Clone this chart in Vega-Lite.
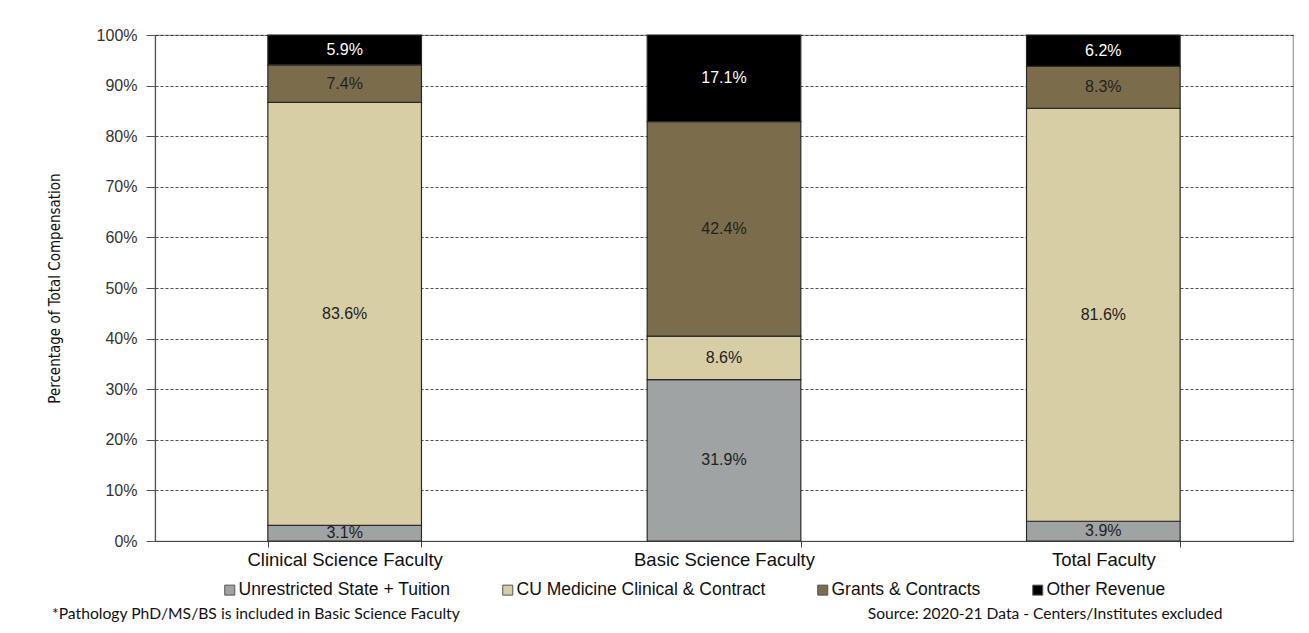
{
  "$schema": "https://vega.github.io/schema/vega-lite/v6.json",
  "width": 1138,
  "height": 506,
  "autosize": {"type": "none"},
  "padding": {"left": 155, "top": 35, "right": 16, "bottom": 92},
  "background": "white",
  "title": {
    "text": "*Pathology PhD/MS/BS  is included in Basic Science Faculty",
    "orient": "bottom",
    "anchor": "start",
    "frame": "group",
    "dx": -103,
    "dy": -12,
    "font": "Lato",
    "fontSize": 15.7,
    "fontWeight": "normal",
    "color": "#111",
    "baseline": "middle"
  },
  "data": {
    "values": [
      {"faculty": "Clinical Science Faculty", "source": "Unrestricted State + Tuition", "ord": 1, "share": 0.031},
      {"faculty": "Clinical Science Faculty", "source": "CU Medicine Clinical & Contract", "ord": 2, "share": 0.836},
      {"faculty": "Clinical Science Faculty", "source": "Grants & Contracts", "ord": 3, "share": 0.074},
      {"faculty": "Clinical Science Faculty", "source": "Other Revenue", "ord": 4, "share": 0.059},
      {"faculty": "Basic Science Faculty", "source": "Unrestricted State + Tuition", "ord": 1, "share": 0.319},
      {"faculty": "Basic Science Faculty", "source": "CU Medicine Clinical & Contract", "ord": 2, "share": 0.086},
      {"faculty": "Basic Science Faculty", "source": "Grants & Contracts", "ord": 3, "share": 0.424},
      {"faculty": "Basic Science Faculty", "source": "Other Revenue", "ord": 4, "share": 0.171},
      {"faculty": "Total Faculty", "source": "Unrestricted State + Tuition", "ord": 1, "share": 0.039},
      {"faculty": "Total Faculty", "source": "CU Medicine Clinical & Contract", "ord": 2, "share": 0.816},
      {"faculty": "Total Faculty", "source": "Grants & Contracts", "ord": 3, "share": 0.083},
      {"faculty": "Total Faculty", "source": "Other Revenue", "ord": 4, "share": 0.062}
    ]
  },
  "encoding": {
    "x": {
      "field": "faculty",
      "type": "nominal",
      "sort": ["Clinical Science Faculty", "Basic Science Faculty", "Total Faculty"],
      "scale": {"paddingInner": 0.595, "paddingOuter": 0.2975},
      "axis": {
        "title": "Source: 2020-21 Data - Centers/Institutes excluded",
        "titleX": 1067,
        "titleY": 72,
        "titleAlign": "right",
        "titleAnchor": null,
        "titleBaseline": "middle",
        "titleFont": "Lato",
        "titleFontSize": 15.6,
        "titleFontWeight": "normal",
        "titleColor": "#111",
        "labelAngle": 0,
        "labelFont": "Liberation Sans",
        "labelFontSize": 18.5,
        "labelColor": "#111",
        "labelPadding": 3,
        "labelLimit": 400,
        "tickBand": "extent",
        "tickSize": 6,
        "tickColor": "#444",
        "domainColor": "#444",
        "domainWidth": 1.2,
        "grid": false
      }
    },
    "y": {
      "field": "share",
      "type": "quantitative",
      "stack": "zero",
      "scale": {"domain": [0, 1]},
      "axis": {
        "title": "Percentage of Total Compensation",
        "titleFont": "Liberation Sans Narrow, DejaVu Sans Condensed, sans-serif",
        "titleFontSize": 15,
        "titleFontWeight": "normal",
        "titleColor": "#111",
        "titlePadding": 34,
        "values": [0, 0.1, 0.2, 0.3, 0.4, 0.5, 0.6, 0.7, 0.8, 0.9, 1],
        "format": ".0%",
        "labelFont": "Liberation Sans",
        "labelFontSize": 16,
        "labelColor": "#333",
        "labelPadding": 9,
        "tickSize": 9,
        "tickColor": "#555",
        "domainColor": "#555",
        "domainWidth": 1.2,
        "grid": true,
        "gridColor": "#222",
        "gridDash": [3, 2],
        "gridWidth": 0.8
      }
    }
  },
  "layer": [
    {
      "mark": {"type": "bar", "stroke": "#2a2a2a", "strokeWidth": 1.2},
      "encoding": {
        "color": {
          "field": "source",
          "type": "nominal",
          "scale": {
            "domain": ["Unrestricted State + Tuition", "CU Medicine Clinical & Contract", "Grants & Contracts", "Other Revenue"],
            "range": ["#A0A3A3", "#D8CEA6", "#7B6D4B", "#000000"]
          },
          "legend": {
            "title": null,
            "orient": "none",
            "legendX": 66,
            "legendY": 546,
            "direction": "horizontal",
            "columns": 4,
            "symbolType": "square",
            "symbolSize": 100,
            "symbolStrokeColor": "#555",
            "symbolStrokeWidth": 1,
            "symbolOpacity": 1,
            "labelFont": "Liberation Sans",
            "labelFontSize": 17.5,
            "labelColor": "#111",
            "labelOffset": 0,
            "columnPadding": 48,
            "labelLimit": 400
          }
        },
        "order": {"field": "ord", "type": "quantitative"}
      }
    },
    {
      "mark": {"type": "text", "font": "Liberation Sans", "fontSize": 16, "baseline": "middle"},
      "encoding": {
        "y": {"field": "share", "type": "quantitative", "stack": "zero", "bandPosition": 0.5},
        "text": {"field": "share", "type": "quantitative", "format": ".1%"},
        "detail": {"field": "source"},
        "order": {"field": "ord", "type": "quantitative"},
        "color": {
          "condition": {"test": "datum.source === 'Other Revenue'", "value": "white"},
          "value": "#222"
        }
      }
    }
  ],
  "config": {
    "view": {"stroke": "#999", "strokeWidth": 1.2}
  }
}
